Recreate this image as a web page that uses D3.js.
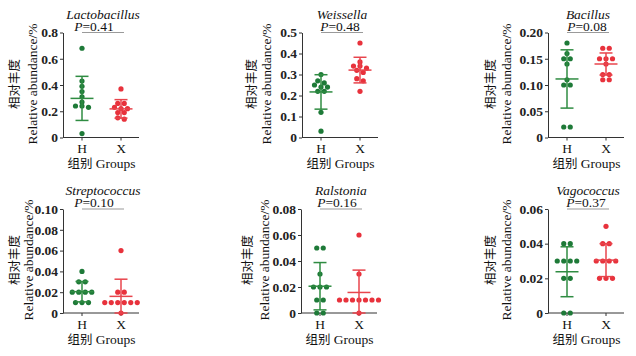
<!DOCTYPE html>
<html><head><meta charset="utf-8">
<script src="https://cdn.jsdelivr.net/npm/d3@7"></script>
<style>body{margin:0;background:#fff}svg{display:block}</style>
</head><body><svg id="c" width="636" height="356"></svg>
<script>
// ---------- data ----------
const titles = ["Lactobacillus","Weissella","Bacillus","Streptococcus","Ralstonia","Vagococcus"];
const pValues = ["0.41","0.48","0.08","0.10","0.16","0.37"];
const groups = ["H","X"];
const yMax = [0.8, 0.5, 0.2, 0.1, 0.08, 0.06];
const yTicks = [
  [0,0.2,0.4,0.6,0.8],
  [0,0.1,0.2,0.3,0.4,0.5],
  [0,0.05,0.10,0.15,0.20],
  [0,0.02,0.04,0.06,0.08,0.10],
  [0,0.02,0.04,0.06,0.08],
  [0,0.02,0.04,0.06]
];
const yTickLabels = [
  ["0","0.2","0.4","0.6","0.8"],
  ["0","0.1","0.2","0.3","0.4","0.5"],
  ["0","0.05","0.10","0.15","0.20"],
  ["0","0.02","0.04","0.06","0.08","0.10"],
  ["0","0.02","0.04","0.06","0.08"],
  ["0","0.02","0.04","0.06"]
];
const valuesH = [
  [0.68,0.43,0.39,0.35,0.31,0.27,0.24,0.24,0.23,0.03],
  [0.30,0.27,0.26,0.25,0.24,0.24,0.22,0.22,0.12,0.03],
  [0.18,0.16,0.15,0.15,0.14,0.11,0.10,0.10,0.02,0.02],
  [0.04,0.03,0.03,0.02,0.02,0.02,0.02,0.01,0.01,0.01],
  [0.05,0.05,0.03,0.02,0.02,0.02,0.01,0.01,0,0],
  [0.04,0.04,0.03,0.03,0.03,0.03,0.02,0.02,0,0]
];
const valuesX = [
  [0.37,0.26,0.26,0.23,0.22,0.22,0.19,0.19,0.15,0.14],
  [0.45,0.36,0.34,0.34,0.33,0.32,0.31,0.28,0.27,0.22],
  [0.17,0.17,0.15,0.15,0.15,0.14,0.12,0.12,0.11,0.11],
  [0.06,0.02,0.02,0.01,0.01,0.01,0.01,0.01,0.01,0],
  [0.06,0.03,0.01,0.01,0.01,0.01,0.01,0.01,0.01,0],
  [0.05,0.04,0.04,0.03,0.03,0.03,0.03,0.02,0.02,0.02]
];
const meanH = [0.298, 0.217, 0.1115, 0.0205, 0.0206, 0.0238];
const sdH   = [0.168, 0.082, 0.0555, 0.0098, 0.0182, 0.0144];
const meanX = [0.218, 0.321, 0.140, 0.016, 0.0158, 0.0305];
const sdX   = [0.0705, 0.061, 0.021, 0.0165, 0.0172, 0.0095];

// ---------- layout ----------
const layout = [
  {ax:63,  top:32.5, bottom:137.5, latinX:32,  cjkX:13,  pOff:31},
  {ax:302, top:32.5, bottom:137.5, latinX:266, cjkX:250, pOff:38},
  {ax:548, top:32.5, bottom:137.5, latinX:506, cjkX:489, pOff:39},
  {ax:63,  top:209,  bottom:313,   latinX:28,  cjkX:13,  pOff:31},
  {ax:301, top:209,  bottom:313,   latinX:264, cjkX:246, pOff:36},
  {ax:548, top:209,  bottom:313,   latinX:506, cjkX:489, pOff:38}
];
const SERIF = '"Liberation Serif","Times New Roman",serif';
const CJK = '"Noto Sans CJK SC",sans-serif';
const colH = {dot:"#1e7a38", line:"#2f8c42"};
const colX = {dot:"#e8323c", line:"#e8444c"};
const axisColor = "#333";

const svg = d3.select("#c");

function swarm(vals, y, cx, step, thr){
  const pts = vals.map(v=>({v, py:y(v)})).sort((a,b)=>a.py-b.py);
  const rows=[]; let cur=null;
  pts.forEach(p=>{ if(cur && p.py-cur[0].py < thr) cur.push(p); else {cur=[p]; rows.push(cur);} });
  rows.forEach(r=>r.forEach((p,i)=>p.px = cx + (i-(r.length-1)/2)*step));
  return pts;
}

titles.forEach((title,i)=>{
  const L = layout[i];
  const g = svg.append("g");
  const y = d3.scaleLinear().domain([0,yMax[i]]).range([L.bottom,L.top]);
  const x = d3.scalePoint().domain(groups).range([L.ax+19, L.ax+58]);
  const width = 76;

  // y axis
  const ya = g.append("g").attr("transform",`translate(${L.ax},0)`)
    .call(d3.axisLeft(y).tickValues(yTicks[i]).tickFormat((d,j)=>yTickLabels[i][j]).tickSize(3).tickPadding(2).tickSizeOuter(0));
  ya.select(".domain").attr("stroke",axisColor);
  ya.selectAll(".tick line").attr("stroke",axisColor);
  ya.selectAll(".tick text").attr("font-family",SERIF).attr("font-size",13.5).attr("font-weight","bold").attr("fill","#222");

  // x axis
  const xa = g.append("g").attr("transform",`translate(0,${L.bottom})`);
  xa.append("line").attr("x1",L.ax).attr("x2",L.ax+width).attr("stroke",axisColor);
  groups.forEach(gr=>{
    xa.append("line").attr("x1",x(gr)).attr("x2",x(gr)).attr("y1",0).attr("y2",3).attr("stroke",axisColor);
    xa.append("text").attr("x",x(gr)).attr("y",15.5).attr("text-anchor","middle")
      .attr("font-family",SERIF).attr("font-size",13.5).attr("fill","#111").text(gr);
  });
  const gx = g.append("text").attr("x",(x("H")+x("X"))/2).attr("y",L.bottom+30.5).attr("text-anchor","middle")
    .attr("font-size",13.5).attr("fill","#111");
  gx.append("tspan").attr("font-family",CJK).attr("font-size",12.5).text("组别");
  gx.append("tspan").attr("font-family",SERIF).text(" Groups");

  // y labels
  const cy = (L.top+L.bottom)/2 - 1;
  g.append("text").attr("transform",`translate(${L.cjkX},${cy}) rotate(-90)`).attr("text-anchor","middle")
    .attr("dominant-baseline","central").attr("font-family",CJK).attr("font-size",12.5).attr("fill","#111").text("相对丰度");
  g.append("text").attr("transform",`translate(${L.latinX},${cy}) rotate(-90)`).attr("text-anchor","middle")
    .attr("dominant-baseline","central").attr("font-family",SERIF).attr("font-size",13.5).attr("fill","#111").text("Relative abundance/%");

  // title & P
  const lx1 = x("H"), lx2 = x("X")+3;
  g.append("text").attr("x",(lx1+lx2)/2).attr("y",L.top-14).attr("text-anchor","middle")
    .attr("font-family",SERIF).attr("font-style","italic").attr("font-size",13.5).attr("fill","#111").text(title);
  const pt = g.append("text").attr("x",L.ax+L.pOff).attr("y",L.top-2).attr("text-anchor","middle")
    .attr("font-family",SERIF).attr("font-size",13.5).attr("fill","#111");
  pt.append("tspan").attr("font-style","italic").text("P");
  pt.append("tspan").text("="+pValues[i]);
  g.append("line").attr("x1",lx1).attr("x2",lx2).attr("y1",L.top).attr("y2",L.top)
    .attr("stroke","#9a9a9a").attr("stroke-width",1.2);

  // groups: dots, mean, sd
  [[valuesH[i],meanH[i],sdH[i],colH,"H"],[valuesX[i],meanX[i],sdX[i],colX,"X"]].forEach(([vals,m,s,col,gr])=>{
    const cx = x(gr);
    const pts = swarm(vals,y,cx,6.5,3.5);
    g.append("g").selectAll("circle").data(pts).join("circle")
      .attr("cx",d=>d.px).attr("cy",d=>d.py).attr("r",2.6).attr("fill",col.dot);
    const yTop = y(m+s), yBot = y(Math.max(0,m-s));
    const lg = g.append("g").attr("stroke",col.line).attr("stroke-width",1.5);
    lg.append("line").attr("x1",cx).attr("x2",cx).attr("y1",yTop).attr("y2",yBot);
    lg.append("line").attr("x1",cx-11.5).attr("x2",cx+11.5).attr("y1",y(m)).attr("y2",y(m));
    lg.append("line").attr("x1",cx-6.5).attr("x2",cx+6.5).attr("y1",yTop).attr("y2",yTop);
    lg.append("line").attr("x1",cx-6.5).attr("x2",cx+6.5).attr("y1",yBot).attr("y2",yBot);
  });
});
</script></body></html>
